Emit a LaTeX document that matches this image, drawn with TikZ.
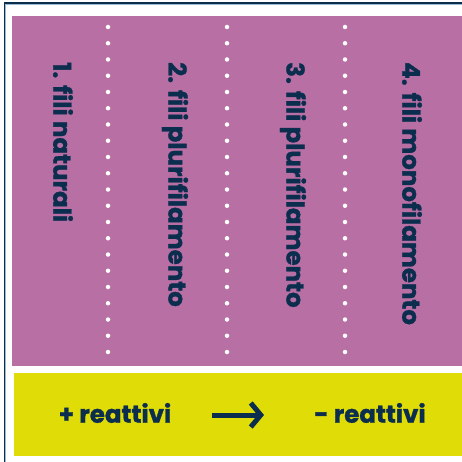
\documentclass[tikz,border=0pt]{standalone}
\usepackage{fontspec}
\setmainfont{Poppins}[BoldFont={Poppins Bold},BoldFeatures={FakeBold=1.2}]
\usepackage{xcolor}
\usetikzlibrary{arrows.meta}
\definecolor{navy}{HTML}{0B2D4E}
\definecolor{lilac}{HTML}{B86FA4}
\definecolor{lime}{HTML}{E0DC08}
\definecolor{paleblue}{HTML}{9DBAD3}

\begin{document}
\begin{tikzpicture}[x=1pt,y=-1pt,
        caption/.style={text=navy,inner sep=0pt,font=\bfseries\fontsize{24.5}{28}\selectfont},
        colcaption/.style={caption,rotate=-90,anchor=west},
        dotline/.style={white,line width=4.5pt,line cap=round,dash pattern=on 0pt off 16.25pt}]
        \useasboundingbox (0,0) rectangle (462,462);

        % frame
        \draw[navy,line width=1.6pt] (4.4,2.8) rectangle (480,480);
        \draw[paleblue,line width=0.8pt] (5.8,4.2) rectangle (480,480);

        % panels
        \fill[lilac] (12,16) rectangle (462,366);
        \fill[lime] (14,373) rectangle (462,456);

        % dividers
        \begin{scope}
            \clip (12,16) rectangle (462,366);
            \foreach \x in {108,227,345}
                \draw[dotline] (\x,10.75) -- (\x,372);
        \end{scope}

        % columns
        \node[colcaption] (col1) at (63,62) {1. fili naturali};
        \node[colcaption] (col2) at (175,62) {2. fili plurifilamento};
        \node[colcaption] (col3) at (293,62) {3. fili plurifilamento};
        \node[colcaption] (col4) at (412,62) {4. fili monofilamento};

        % bottom
        \node[caption] (more) at (115,413) {+ reattivi};
        \node[caption] (less) at (370,413) {- reattivi};
        \coordinate (from) at (212,415);
        \coordinate (to) at (264,415);
        \draw[navy,line width=5pt,-{Straight Barb[length=10pt,width=24pt]}] (from) -- (to);

    \end{tikzpicture}
\end{document}
